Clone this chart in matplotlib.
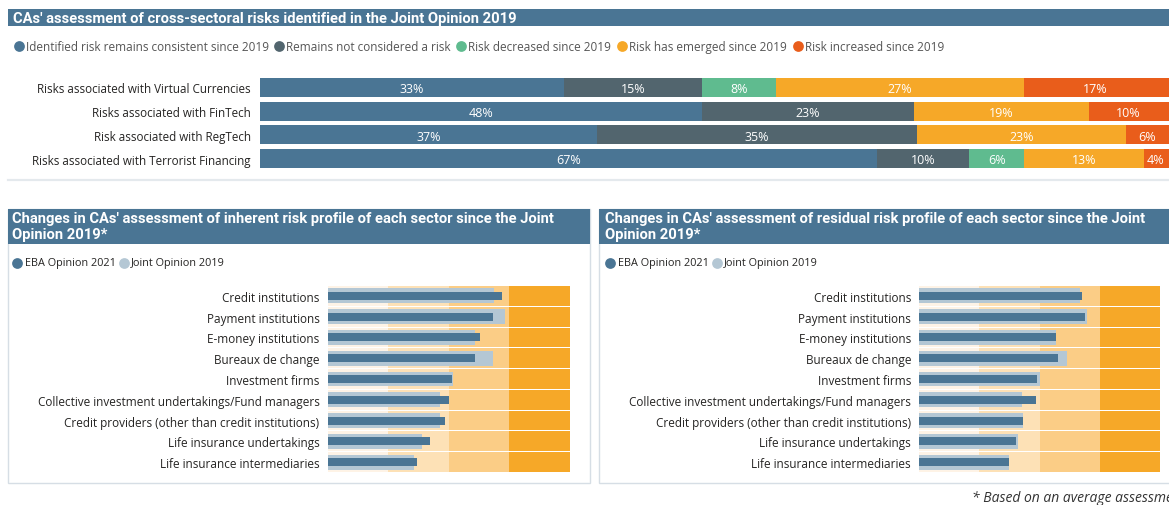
import matplotlib
matplotlib.use("Agg")
import matplotlib.pyplot as plt
from matplotlib.patches import Rectangle

W, H = 1169, 506

# top chart data (percent of CAs)
risks = ["Risks associated with Virtual Currencies",
         "Risks associated with FinTech",
         "Risk associated with RegTech",
         "Risks associated with Terrorist Financing"]
risk_cats = ["Identified risk remains consistent since 2019",
             "Remains not considered a risk",
             "Risk decreased since 2019",
             "Risk has emerged since 2019",
             "Risk increased since 2019"]
consistent = [33, 48, 37, 67]
not_risk = [15, 23, 35, 10]
decreased = [8, 0, 0, 6]
emerged = [27, 19, 23, 13]
increased = [17, 10, 6, 4]

# bullet charts (average risk score, 1 band = 1 level)
sectors = ["Credit institutions",
           "Payment institutions",
           "E-money institutions",
           "Bureaux de change",
           "Investment firms",
           "Collective investment undertakings/Fund managers",
           "Credit providers (other than credit institutions)",
           "Life insurance undertakings",
           "Life insurance intermediaries"]
inherent_2021 = [2.89, 2.73, 2.52, 2.44, 2.05, 2.00, 1.94, 1.70, 1.48]
inherent_2019 = [2.75, 2.94, 2.44, 2.73, 2.08, 1.86, 1.86, 1.56, 1.43]
residual_2021 = [2.70, 2.76, 2.28, 2.30, 1.96, 1.95, 1.72, 1.61, 1.49]
residual_2019 = [2.67, 2.79, 2.27, 2.45, 2.01, 1.71, 1.72, 1.64, 1.50]
bands = [1, 1, 1, 1]

BLUE = "#4A7594"
seg_colors = [BLUE, "#52656E", "#5FBB8F", "#F6A828", "#E95D1B"]
band_colors = ["#FEF3E6", "#FDE1B6", "#FBCD86", "#F6A828"]
LIGHT = "#B4C7D4"
TXT = "#252423"
body = ["Open Sans", "DejaVu Sans"]
head = ["Roboto", "DejaVu Sans"]


def box(x0, y0, x1, y1):
    return [x0 / W, 1 - y1 / H, (x1 - x0) / W, (y1 - y0) / H]


fig = plt.figure(figsize=(W / 100, H / 100), dpi=100)

# overlay in pixel coords for banners, frames, legends
bg = fig.add_axes([0, 0, 1, 1])
bg.set_xlim(0, W)
bg.set_ylim(H, 0)
bg.axis("off")

bg.add_patch(Rectangle((8, 9.5), W, 17.5, color=BLUE, lw=0))
bg.text(13, 18.5, "CAs' assessment of cross-sectoral risks identified in the Joint Opinion 2019",
        color="white", fontsize=10.6, fontweight="bold", family=head, va="center")

leg_x = [19, 279, 461, 622, 798]
for lx, lab, c in zip(leg_x, risk_cats, seg_colors):
    bg.scatter(lx, 47, s=60, color=c, lw=0)
    bg.text(lx + 7, 47, lab, fontsize=8.45, color="#555555", family=body, va="center")

bg.plot([8, W], [181, 181], color="#E4E9ED", lw=1.6)

# panels
for x0, x1 in [(8, 590), (599, W + 10)]:
    bg.add_patch(Rectangle((x0, 210), x1 - x0, 274, fill=False, ec="#D6DEE5", lw=1))
    bg.add_patch(Rectangle((x0, 209.5), x1 - x0, 35, color=BLUE, lw=0))

titles = ["Changes in CAs' assessment of inherent risk profile of each sector since the Joint\nOpinion 2019*",
          "Changes in CAs' assessment of residual risk profile of each sector since the Joint\nOpinion 2019*"]
for tx, t in zip([12, 605], titles):
    bg.text(tx, 227, t, color="white", fontsize=10.6, fontweight="bold", family=head,
            va="center", linespacing=1.1)

for cx in [17, 610]:
    bg.scatter(cx, 263.5, s=60, color=BLUE, lw=0)
    bg.text(cx + 8, 263.5, "EBA Opinion 2021", fontsize=7.8, color=TXT, family=body, va="center")
    bg.scatter(cx + 107, 263.5, s=60, color=LIGHT, lw=0)
    bg.text(cx + 114, 263.5, "Joint Opinion 2019", fontsize=7.8, color=TXT, family=body, va="center")

fig.text(972 / W, 1 - 499 / H, "* Based on an average assessment", fontsize=10,
         style="italic", color="#333333", family=body, va="center")

# top stacked bars (the visual runs a little past the page edge)
x_left, x_right = 260, 1181
ax = fig.add_axes(box(x_left, 76.5, x_right, 171.5))
ax.set_facecolor("none")
visible = 100 * (W - 2 - x_left) / (x_right - x_left)
series = [consistent, not_risk, decreased, emerged, increased]
left = [0.0] * len(risks)
totals = [sum(v) for v in zip(*series)]
for vals, c in zip(series, seg_colors):
    w = [v / t * 100 for v, t in zip(vals, totals)]
    bars = ax.barh(range(len(risks)), w, left=left, height=0.79, color=c, lw=0)
    for b, v in zip(bars, vals):
        if v > 0:
            x0 = b.get_x()
            x1 = min(x0 + b.get_width(), visible)
            ax.text((x0 + x1) / 2, b.get_y() + b.get_height() / 2 + 0.05, f"{v}%",
                    ha="center", va="center", color="white", fontsize=9, family=body)
    left = [l + x for l, x in zip(left, w)]
ax.set_xlim(0, 100)
ax.set_ylim(len(risks) - 0.5, -0.5)
ax.set_yticks(range(len(risks)))
ax.set_yticklabels(risks, fontsize=8.4, color=TXT, family=body)
ax.tick_params(length=0, pad=6.5)
ax.set_xticks([])
for s in ax.spines.values():
    s.set_visible(False)


def bullet(rect, new, old):
    a = fig.add_axes(rect)
    a.set_facecolor("none")
    n = len(sectors)
    start = 0
    for bw, c in zip(bands, band_colors):
        a.barh(range(n), [bw] * n, left=start, height=0.95, color=c, lw=0)
        start += bw
    a.barh(range(n), old, height=0.72, color=LIGHT, lw=0)
    a.barh(range(n), new, height=0.38, color=BLUE, lw=0)
    a.set_xlim(0, sum(bands))
    a.set_ylim(n - 0.5, -0.5)
    a.set_yticks(range(n))
    a.set_yticklabels(sectors, fontsize=8.45, color=TXT, family=body)
    a.tick_params(length=0, pad=5.7)
    a.set_xticks([])
    for s in a.spines.values():
        s.set_visible(False)


bullet(box(327.5, 286.5, 569.5, 473.5), inherent_2021, inherent_2019)
bullet(box(919, 286.5, 1160, 473.5), residual_2021, residual_2019)

fig.savefig("out.png", dpi=100)
